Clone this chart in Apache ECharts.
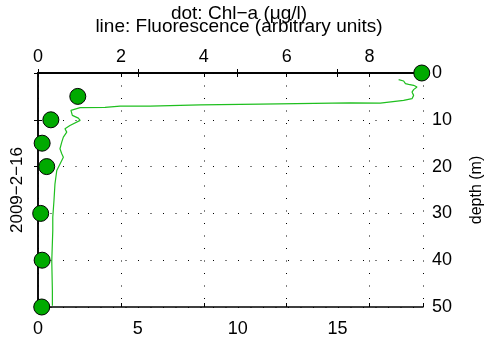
<!DOCTYPE html>
<html><head><meta charset="utf-8">
<script src="https://cdn.jsdelivr.net/npm/echarts@6/dist/echarts.min.js"></script>
<style>html,body{margin:0;padding:0;background:#fff}#c{width:486px;height:338px}</style>
</head><body><div id="c"></div>
<script>
var chlDepth = [0, 5, 10, 15, 20, 30, 40, 50];
var chlValues = [9.26, 0.96, 0.31, 0.1, 0.21, 0.065, 0.1, 0.09];
var fluorDepth = [1.41, 1.71, 2.27, 2.42, 2.63, 3.0, 3.55, 4.07, 4.78, 5.48, 5.85, 6.42, 6.38, 6.64, 6.81, 7.09, 7.07, 7.34, 7.41, 7.99, 9.06, 9.64, 10.13, 11.2, 11.9, 12.63, 13.7, 14.78, 16.19, 17.26, 17.99, 20.84, 23.68, 27.26, 30.84, 33.68, 40.1, 46.5, 49.74];
var fluorValues = [18.06, 18.31, 18.40, 18.56, 18.81, 18.98, 18.81, 18.73, 18.81, 18.73, 18.31, 17.14, 15.64, 11.13, 8.12, 5.61, 4.11, 3.36, 2.11, 1.65, 1.72, 2.02, 2.11, 1.60, 1.35, 1.44, 1.27, 1.19, 1.10, 1.19, 1.27, 0.94, 0.85, 0.80, 0.74, 0.74, 0.69, 0.72, 0.72];
var chlTicks = [0, 2, 4, 6, 8];
var fluorTicks = [0, 5, 10, 15];
var depthTicks = [0, 10, 20, 30, 40, 50];

var FONT = 'Liberation Sans';
var chlMax = 9.29, fluorMax = 19.28;
var dotted = {color: '#000', width: 1, type: [1, 11.5]};
var axisLine = {show: true, lineStyle: {color: '#000', width: 1.5}};
var tickIn = {show: true, inside: true, length: 4, lineStyle: {color: '#000', width: 1}};
var lbl = {color: '#000', fontFamily: FONT, fontSize: 18, showMaxLabel: false};

var chart = echarts.init(document.getElementById('c'), null, {renderer: 'canvas'});
chart.setOption({
  animation: false,
  backgroundColor: '#fff',
  title: {
    text: 'dot: Chl\u2212a (\u03bcg/l)\nline: Fluorescence (arbitrary units)',
    left: 234, top: 2, textAlign: 'center',
    textStyle: {fontFamily: FONT, fontSize: 19, fontWeight: 'normal', color: '#000', lineHeight: 13}
  },
  grid: {left: 38, right: 63, top: 73, bottom: 31, containLabel: false, outerBoundsMode: 'none'},
  xAxis: [
    {type: 'value', position: 'top', min: 0, max: chlMax, interval: 2,
     axisLine: axisLine, axisTick: tickIn, splitLine: {show: true, lineStyle: dotted},
     axisLabel: Object.assign({}, lbl, {margin: 7, formatter: function(v){return chlTicks.indexOf(v) >= 0 ? String(v) : '';}})},
    {type: 'value', position: 'bottom', min: 0, max: fluorMax, interval: 5,
     axisLine: axisLine, axisTick: tickIn, splitLine: {show: false},
     axisLabel: Object.assign({}, lbl, {margin: 13, formatter: function(v){return fluorTicks.indexOf(v) >= 0 ? String(v) : '';}})},
    {type: 'value', position: 'top', min: 0, max: fluorMax, interval: 5,
     axisLine: axisLine, axisTick: tickIn, splitLine: {show: false}, axisLabel: {show: false}},
    {type: 'value', position: 'bottom', min: 0, max: chlMax, interval: 2,
     axisLine: axisLine, axisTick: tickIn, splitLine: {show: false}, axisLabel: {show: false}}
  ],
  yAxis: [
    {type: 'value', position: 'right', inverse: true, min: 0, max: 50, interval: 10,
     name: 'depth (m)', nameLocation: 'middle', nameRotate: 90, nameGap: 46,
     nameTextStyle: {fontFamily: FONT, fontSize: 16, color: '#000'},
     axisLine: axisLine, axisTick: tickIn, splitLine: {show: true, lineStyle: dotted},
     axisLabel: Object.assign({}, lbl, {margin: 9, showMaxLabel: true, formatter: function(v){return depthTicks.indexOf(v) >= 0 ? String(v) : '';}})},
    {type: 'value', position: 'left', inverse: true, min: 0, max: 50, interval: 10,
     name: '2009\u22122\u221216', nameLocation: 'middle', nameRotate: 90, nameGap: 12,
     nameTextStyle: {fontFamily: FONT, fontSize: 17, color: '#000'},
     axisLine: axisLine, axisTick: tickIn, splitLine: {show: false}, axisLabel: {show: false}}
  ],
  series: [
    {type: 'line', xAxisIndex: 1, yAxisIndex: 0, symbol: 'none', clip: false,
     lineStyle: {color: '#1fbf1f', width: 1.2},
     data: fluorValues.map(function(v, i){ return [v, fluorDepth[i]]; }), z: 2},
    {type: 'scatter', xAxisIndex: 0, yAxisIndex: 0, symbolSize: 16, clip: false,
     itemStyle: {color: '#00aa00', borderColor: '#000', borderWidth: 1, opacity: 1},
     data: chlValues.map(function(v, i){ return [v, chlDepth[i]]; }), z: 5}
  ]
});
</script></body></html>
